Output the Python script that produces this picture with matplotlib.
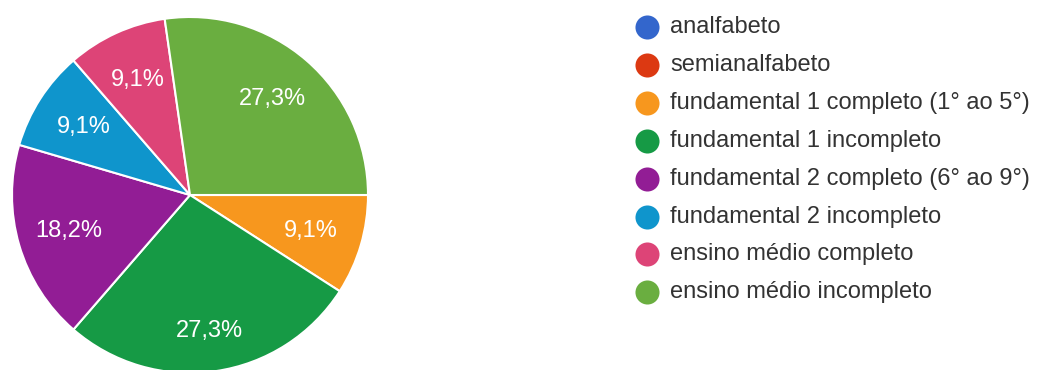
import matplotlib
matplotlib.use('Agg')
import matplotlib.pyplot as plt

categories = [
    'analfabeto',
    'semianalfabeto',
    'fundamental 1 completo (1° ao 5°)',
    'fundamental 1 incompleto',
    'fundamental 2 completo (6° ao 9°)',
    'fundamental 2 incompleto',
    'ensino médio completo',
    'ensino médio incompleto',
]
counts = [0, 0, 1, 3, 2, 1, 1, 3]
colors = ['#3366cc', '#dc3912', '#f7971e', '#169a45', '#921d95',
          '#0f95cc', '#dd4477', '#6aae40']

plt.rcParams['font.family'] = ['Liberation Sans', 'DejaVu Sans']

W, H = 1037, 370
fig = plt.figure(figsize=(W / 100, H / 100), dpi=100)

# pie: centre (190, 195) px from top-left, radius 178 px (runs off the bottom edge)
cx, cy, r = 190, 195, 178
ax = fig.add_axes([(cx - r) / W, (H - cy - r) / H, 2 * r / W, 2 * r / H])


def pct_label(p):
    if p < 0.5:
        return ''
    return f'{p:.1f}%'.replace('.', ',')


wedges, texts, autotexts = ax.pie(
    counts, colors=colors, startangle=0, counterclock=False,
    autopct=pct_label, pctdistance=0.71, radius=1,
    wedgeprops=dict(edgecolor='white', linewidth=1.5),
    textprops=dict(color='white', fontsize=17))
ax.set_xlim(-1, 1)
ax.set_ylim(-1, 1)
ax.set_aspect('auto')
# bottom label sits a bit further out
x3, y3 = autotexts[3].get_position()
autotexts[3].set_position((x3 * 1.085, y3 * 1.085))

# legend on the right
lg = fig.add_axes([0, 0, 1, 1])
lg.set_xlim(0, W)
lg.set_ylim(H, 0)
lg.axis('off')
for i, (name, c) in enumerate(zip(categories, colors)):
    y = 27 + i * 37.9
    lg.scatter(647, y, s=300, color=c, linewidths=0)
    lg.text(670, y, name, fontsize=17, color='#333333', va='center', ha='left')

fig.savefig('out.png', dpi=100)
